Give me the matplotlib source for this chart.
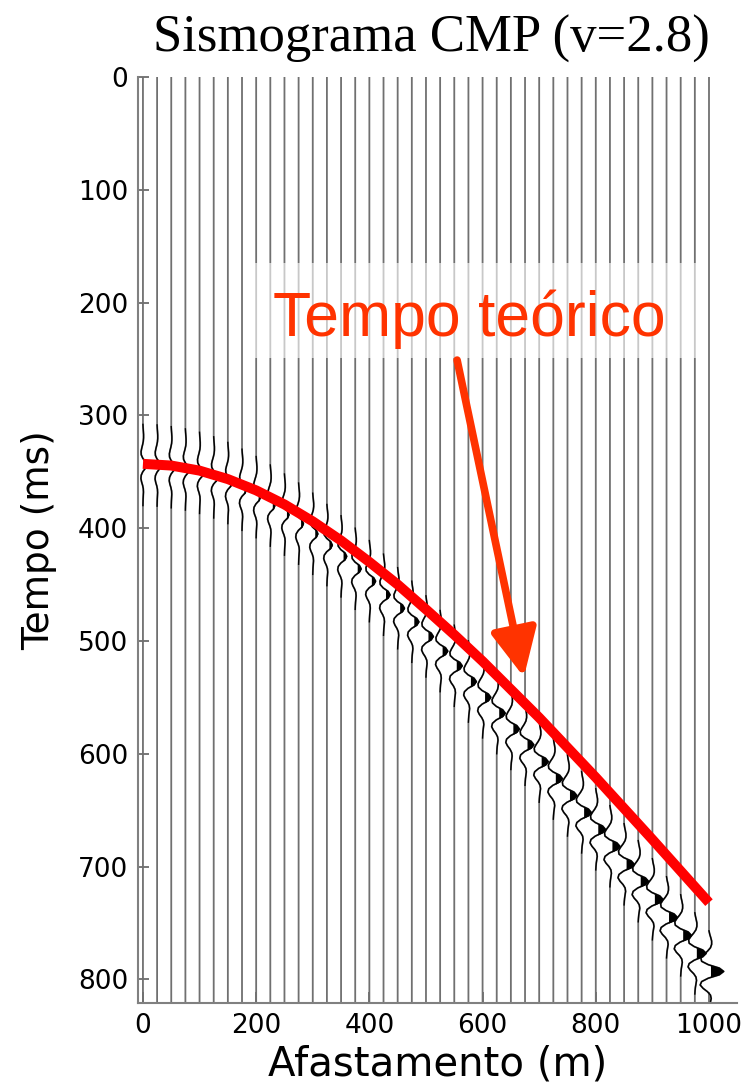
import numpy as np
import matplotlib
matplotlib.use("Agg")
import matplotlib.pyplot as plt
from matplotlib.patches import Rectangle, FancyArrowPatch

# offsets of the 41 traces (m)
offsets = [0, 25, 50, 75, 100, 125, 150, 175, 200, 225, 250, 275, 300, 325, 350,
           375, 400, 425, 450, 475, 500, 525, 550, 575, 600, 625, 650, 675, 700,
           725, 750, 775, 800, 825, 850, 875, 900, 925, 950, 975, 1000]
# picked arrival time of the reflection on each trace (ms)
arrivals = [344, 344.5, 346, 348, 351, 355, 360, 366, 372.5, 380, 388, 396, 405,
            415, 425, 436, 447, 459, 471, 483, 496, 509, 522, 536, 550, 564, 578,
            592, 607, 622, 637, 652, 667, 682, 698, 713, 729, 745, 761, 777, 793]
# peak amplitude of each trace (m of deflection)
amps = [6, 6, 6, 6.5, 6.5, 7, 7, 7.5, 7.5, 8, 8,
        8.5, 9, 9.5, 10, 10.5, 11, 11.5, 12, 12.5, 13,
        13.5, 14, 14, 14.5, 15, 15, 15.5, 16, 16, 16.5,
        17, 17, 17.5, 18, 18, 18.5, 19, 19, 20, 26]
# wavelet shape: lag (ms) -> relative amplitude
wav_lag = [-36, -33, -30, -27, -24, -21, -18, -15, -12, -9, -6, -3, 0,
           3, 6, 9, 12, 15, 18, 21, 24, 27, 30, 33, 36]
wav_amp = [0, .05, .12, .18, .18, .10, -.10, -.35, -.55, -.50, -.05, .70, 1.0,
           .70, -.05, -.50, -.60, -.40, -.10, .10, .15, .10, .05, .02, 0]

# theoretical moveout curve (red)
curve_x = [0, 50, 100, 150, 200, 250, 300, 350, 400, 450, 500, 550, 600, 650,
           700, 750, 800, 850, 900, 950, 1000]
curve_t = [343, 344.5, 349, 356.5, 366.5, 379, 394, 411, 430, 450, 472, 494.5,
           518, 543, 568, 594.5, 621, 648.5, 676, 704, 732]

T_END = 821
SANS = "DejaVu Sans"

fig = plt.figure(figsize=(7.49, 10.84), dpi=100)
ax = fig.add_axes([0.1842, 0.0747, 0.7998, 0.8543])

lag = np.array(wav_lag, dtype=float)
w = np.array(wav_amp)
bias = 3.5
for off, t0, a in zip(offsets, arrivals, amps):
    tw = t0 + lag
    xw = off + a * w
    tt = np.concatenate([[0], tw, [T_END]])
    xx = np.concatenate([[off], xw, [off]])
    ax.plot(xx, tt, color="#707070", lw=1.3, zorder=2)
    ax.plot(xw, tw, color="black", lw=1.0, zorder=2.1)
    ax.fill_betweenx(tw, off + bias, xw, where=xw > off + bias,
                     interpolate=True, color="black", lw=0, zorder=2.1)

# translucent box behind the label
ax.add_patch(Rectangle((198, 165), 786, 84, facecolor="white", alpha=0.62,
                       edgecolor="none", zorder=3))
ax.text(576, 229.5, "Tempo teórico", color="#ff3300", fontsize=45,
        family="Liberation Sans", ha="center", va="baseline", zorder=4)

ax.plot(curve_x, curve_t, color="#ff0000", lw=7.2, solid_capstyle="butt",
        zorder=5)

arrow = FancyArrowPatch((555, 251), (673, 532),
                        arrowstyle="-|>,head_length=29,head_width=14",
                        mutation_scale=1, lw=5.5, color="#ff3300",
                        shrinkA=0, shrinkB=0, zorder=5)
ax.add_patch(arrow)

ax.set_xlim(-8.8, 1049.5)
ax.set_ylim(T_END, 0)
ax.set_xticks(range(0, 1001, 200))
ax.set_yticks(range(0, 801, 100))
for s in ("top", "right"):
    ax.spines[s].set_visible(False)
for s in ("left", "bottom"):
    ax.spines[s].set_color("#808080")
    ax.spines[s].set_linewidth(1.5)
ax.tick_params(direction="in", length=8, width=1.2, color="#606060",
               labelsize=19, pad=7)
for lab in ax.get_xticklabels() + ax.get_yticklabels():
    lab.set_family(SANS)

ax.set_xlabel("Afastamento (m)", fontsize=29, family=SANS)
ax.set_ylabel("Tempo (ms)", fontsize=27, family=SANS)
ax.xaxis.set_label_coords(0.5, -0.0778)
ax.xaxis.label.set_va("baseline")
ax.yaxis.set_label_coords(-0.149, 0.5)
ax.yaxis.label.set_va("baseline")

fig.suptitle("Sismograma CMP (v=2.8)", x=431 / 749, y=1 - 52 / 1084,
             va="baseline", fontsize=38, family="Liberation Serif")

fig.savefig("out.png", dpi=100)
